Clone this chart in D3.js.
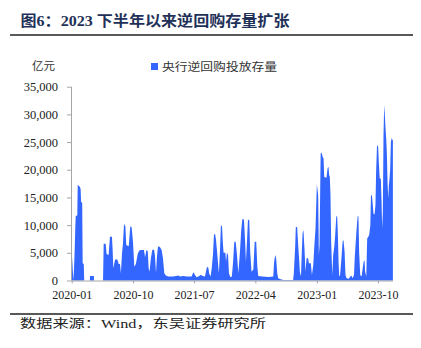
<!DOCTYPE html>
<html>
<head>
<meta charset="utf-8">
<script src="https://cdn.jsdelivr.net/npm/d3@7/dist/d3.min.js"></script>
<style>
  html, body { margin: 0; padding: 0; background: #fff; }
  svg { display: block; }
</style>
</head>
<body>
<svg id="chart" width="421" height="348"></svg>
<script>
// ---- data ----
const seriesName = "央行逆回购投放存量";
const dates = [
  "2020-01-02","2020-01-05","2020-01-08","2020-01-11","2020-01-14","2020-01-17","2020-01-19","2020-01-26",
  "2020-01-28","2020-02-07","2020-02-10","2020-02-12","2020-02-17","2020-02-19","2020-02-24","2020-02-26",
  "2020-03-22","2020-03-23","2020-04-09","2020-04-10","2020-05-20","2020-05-23","2020-06-01","2020-06-05",
  "2020-06-14","2020-06-20","2020-06-29","2020-07-02","2020-07-05","2020-07-13","2020-07-23","2020-07-29",
  "2020-08-04","2020-08-08","2020-08-13","2020-08-17","2020-08-22","2020-08-28","2020-09-01","2020-09-12",
  "2020-09-19","2020-09-25","2020-10-01","2020-10-07","2020-10-14","2020-10-22","2020-10-29","2020-11-07",
  "2020-11-19","2020-11-24","2020-11-30","2020-12-06","2020-12-10","2020-12-14","2020-12-20","2020-12-26",
  "2021-01-03","2021-01-07","2021-01-12","2021-01-16","2021-01-21","2021-01-30","2021-02-06","2021-02-12",
  "2021-02-18","2021-02-25","2021-03-08","2021-03-30","2021-04-23","2021-04-29","2021-05-14","2021-05-29",
  "2021-06-20","2021-06-25","2021-06-29","2021-07-05","2021-07-13","2021-07-24","2021-08-01","2021-08-08",
  "2021-08-19","2021-08-23","2021-08-28","2021-09-03","2021-09-07","2021-09-13","2021-09-18","2021-09-24",
  "2021-09-28","2021-10-03","2021-10-07","2021-10-12","2021-10-16","2021-10-20","2021-10-25","2021-10-29",
  "2021-11-03","2021-11-07","2021-11-10","2021-11-18","2021-11-21","2021-11-25","2021-11-30","2021-12-04",
  "2021-12-10","2021-12-17","2021-12-22","2021-12-28","2022-01-03","2022-01-09","2022-01-15","2022-01-22",
  "2022-01-28","2022-02-02","2022-02-09","2022-02-14","2022-02-18","2022-02-23","2022-02-27","2022-03-05",
  "2022-03-09","2022-03-15","2022-03-23","2022-03-29","2022-04-05","2022-04-10","2022-04-14","2022-05-01",
  "2022-06-01","2022-06-20","2022-06-24","2022-06-29","2022-07-03","2022-07-08","2022-07-12","2022-07-20",
  "2022-08-04","2022-09-17","2022-09-20","2022-09-26","2022-09-29","2022-10-05","2022-10-10","2022-10-14",
  "2022-10-17","2022-10-22","2022-10-25","2022-10-29","2022-11-02","2022-11-07","2022-11-11","2022-11-16",
  "2022-11-23","2022-11-26","2022-12-05","2022-12-10","2022-12-16","2022-12-20","2022-12-26","2023-01-01",
  "2023-01-07","2023-01-10","2023-01-13","2023-01-18","2023-01-22","2023-01-27","2023-01-31","2023-02-03",
  "2023-02-13","2023-02-18","2023-02-22","2023-02-25","2023-02-28","2023-03-03","2023-03-06","2023-03-11",
  "2023-03-15","2023-03-20","2023-03-24","2023-03-29","2023-04-02","2023-04-05","2023-04-08","2023-04-11",
  "2023-04-15","2023-04-21","2023-04-26","2023-04-30","2023-05-05","2023-05-09","2023-05-14","2023-05-24",
  "2023-05-30","2023-06-05","2023-06-10","2023-06-16","2023-06-20","2023-06-26","2023-06-30","2023-07-03",
  "2023-07-06","2023-07-09","2023-07-14","2023-07-20","2023-07-25","2023-07-29","2023-08-02","2023-08-05",
  "2023-08-10","2023-08-14","2023-08-19","2023-08-23","2023-08-28","2023-08-31","2023-09-04","2023-09-07",
  "2023-09-11","2023-09-16","2023-09-20","2023-09-23","2023-09-27","2023-10-02","2023-10-05","2023-10-09",
  "2023-10-14","2023-10-17","2023-10-20","2023-10-23","2023-10-26","2023-10-29","2023-11-01","2023-11-04",
  "2023-11-07","2023-11-10","2023-11-13","2023-11-16","2023-11-19","2023-11-22","2023-11-25","2023-11-28",
  "2023-12-02","2023-12-05","2023-12-07"
];
const values = [
  4600,2500,100,1800,5000,9500,11600,11800,
  17300,16900,16500,14200,14000,3100,3000,0,
  0,800,800,0,0,6700,6600,4800,
  4600,7900,7900,5500,2200,3800,3800,3000,
  3000,1300,4900,6600,10200,9800,6400,6200,
  9800,9600,7000,2500,3000,4800,5400,5500,
  5500,4200,5500,5300,2200,1600,4000,5500,
  5600,4600,1400,4300,6200,6000,5500,4000,
  1300,900,700,700,900,700,800,700,
  700,1200,1500,1000,600,800,1050,800,
  700,1600,2500,2300,1200,700,2200,4900,
  8300,8400,7400,5200,3200,1300,5500,10000,
  9800,6700,5000,5000,3400,5000,4600,1300,
  600,700,3100,7000,7000,4600,1300,5000,
  9100,11100,11000,7300,3400,7300,11000,10900,
  5200,1600,2000,7000,7000,2500,800,700,
  650,700,3400,4600,4000,1300,400,250,
  100,100,1300,6100,9700,9600,6100,3700,
  1600,700,4300,8500,9100,5500,1600,4000,
  4000,3100,3100,1000,2800,5800,9400,17400,
  15400,4600,6400,22950,23100,22350,22050,18700,
  18550,20250,20550,19050,18750,15400,7000,1000,
  4600,6100,8200,11650,11500,8200,3400,700,
  1000,4000,7000,7300,5200,1000,400,300,
  700,870,400,1000,4600,8200,10600,11700,
  11500,5200,1000,700,2200,3400,3700,1600,
  700,7600,7900,8200,10000,15400,15400,14200,
  12100,11900,13600,19650,24450,24150,21450,18400,
  18400,14800,9400,12400,26250,31700,29900,27500,
  25700,23000,17800,14800,17200,18400,20250,25050,
  25800,25350,25400
];
const yTicks = [0, 5000, 10000, 15000, 20000, 25000, 30000, 35000];
const xTickLabels = ["2020-01","2020-10","2021-07","2022-04","2023-01","2023-10"];
const xStart = "2020-01-01", xEnd = "2023-12-07";
const titleText = "图6：2023 下半年以来逆回购存量扩张";
const unitText = "亿元";
const sourceText = "数据来源：Wind，东吴证券研究所";

// ---- drawing ----
const parse = d3.timeParse("%Y-%m-%d");
const parseM = d3.timeParse("%Y-%m");
const data = dates.map((d, i) => ({ date: parse(d), value: values[i] }));

const svg = d3.select("#chart");
const blue = "#3366ff";
const serif = "'Liberation Serif','Times New Roman','Noto Sans CJK SC',serif";

svg.append("rect").attr("width", 421).attr("height", 348).attr("fill", "#fff");

// title
svg.append("text")
  .attr("x", 20.5).attr("y", 26)
  .attr("font-family", serif).attr("font-weight", "bold").attr("font-size", 15)
  .attr("fill", "#1f3158")
  .attr("textLength", 269).attr("lengthAdjust", "spacingAndGlyphs")
  .text(titleText);
svg.append("line").attr("x1", 10).attr("x2", 413).attr("y1", 35).attr("y2", 35)
  .attr("stroke", "#222").attr("stroke-width", 1.6);

const x = d3.scaleTime().domain([parse(xStart), parse(xEnd)]).range([71.7, 392.9]);
const y = d3.scaleLinear().domain([0, 35000]).range([280.5, 86.7]);

// area
const area = d3.area().x(d => x(d.date)).y0(y(0)).y1(d => y(d.value));
svg.append("path").datum(data).attr("d", area).attr("fill", blue);

// y axis
const yAxis = d3.axisLeft(y).tickValues(yTicks).tickSize(4).tickPadding(9)
  .tickFormat(d3.format(","));
const gy = svg.append("g").attr("transform", "translate(71,0)").call(yAxis);
gy.select(".domain").attr("stroke", "#a6a6a6").attr("d", "M0.5," + y(35000) + "V" + y(0));
gy.selectAll(".tick line").attr("stroke", "#a6a6a6");
gy.selectAll(".tick text").attr("font-family", serif).attr("font-size", 12.5).attr("fill", "#222");

// x axis
const xAxis = d3.axisBottom(x).tickValues(xTickLabels.map(parseM)).tickSize(3).tickPadding(7)
  .tickFormat(d3.timeFormat("%Y-%m"));
const gx = svg.append("g").attr("transform", "translate(0," + y(0) + ")").call(xAxis);
gx.select(".domain").attr("stroke", "#a6a6a6").attr("d", "M71,0.5H393");
gx.selectAll(".tick line").attr("stroke", "#a6a6a6");
gx.selectAll(".tick text").attr("font-family", serif).attr("font-size", 12).attr("fill", "#222");

// unit label
svg.append("text").attr("x", 55).attr("y", 69.5).attr("text-anchor", "end")
  .attr("font-family", "'Noto Sans CJK SC',sans-serif").attr("font-size", 11.5).attr("fill", "#333")
  .text(unitText);

// legend
svg.append("rect").attr("x", 151).attr("y", 63).attr("width", 7).attr("height", 7).attr("fill", blue);
svg.append("text").attr("x", 162).attr("y", 71)
  .attr("font-family", "'Noto Sans CJK SC',sans-serif").attr("font-size", 11).attr("fill", "#333")
  .attr("textLength", 115).attr("lengthAdjust", "spacingAndGlyphs")
  .text(seriesName);

// footer
svg.append("line").attr("x1", 10).attr("x2", 413).attr("y1", 314).attr("y2", 314)
  .attr("stroke", "#222").attr("stroke-width", 1.6);
svg.append("text").attr("x", 20).attr("y", 328)
  .attr("font-family", serif).attr("font-size", 12).attr("fill", "#222")
  .attr("textLength", 246).attr("lengthAdjust", "spacingAndGlyphs")
  .text(sourceText);
</script>
</body>
</html>
